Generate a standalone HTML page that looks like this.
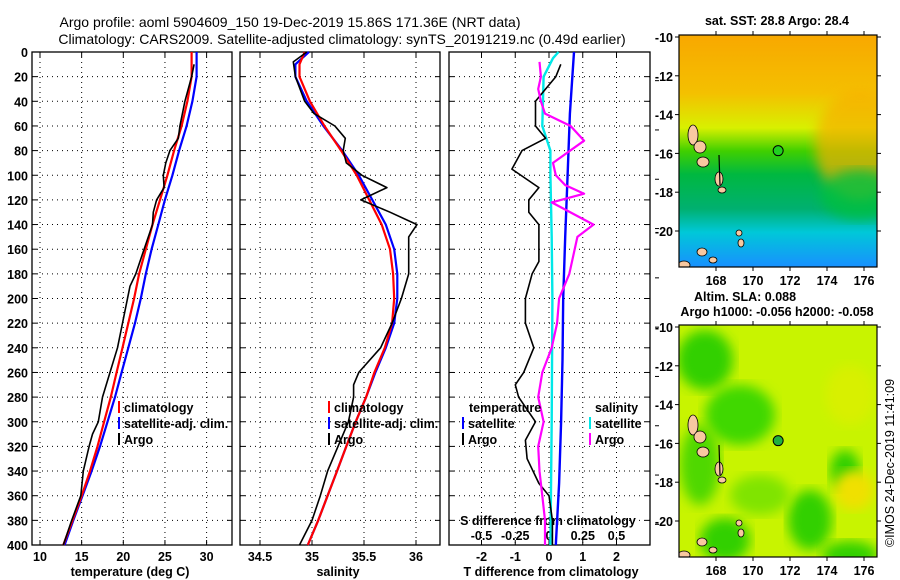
<!DOCTYPE html>
<html><head><meta charset="utf-8">
<style>
body{margin:0;background:#fff;}
svg{display:block;font-family:"Liberation Sans",Arial,sans-serif;}
</style></head>
<body>
<svg id="chart" width="900" height="580" viewBox="0 0 900 580" xmlns="http://www.w3.org/2000/svg">
<defs>
<linearGradient id="sstGrad" x1="0" y1="0" x2="0" y2="1">
<stop offset="0" stop-color="#f8a800"/>
<stop offset="0.25" stop-color="#f4c000"/>
<stop offset="0.4" stop-color="#d8f000"/>
<stop offset="0.5" stop-color="#40d000"/>
<stop offset="0.6" stop-color="#00b840"/>
<stop offset="0.75" stop-color="#00b070"/>
<stop offset="0.85" stop-color="#00c8d8"/>
<stop offset="1" stop-color="#1890ff"/>
</linearGradient>
<linearGradient id="sstRight" x1="0" y1="0" x2="1" y2="0">
<stop offset="0" stop-color="#f8b000" stop-opacity="0"/>
<stop offset="1" stop-color="#f8b000" stop-opacity="0.8"/>
</linearGradient>
<filter id="blur"><feGaussianBlur stdDeviation="6"/></filter>
<clipPath id="clipM1"><rect x="679" y="35" width="198" height="232"/></clipPath>
<clipPath id="clipM2"><rect x="679" y="325" width="198" height="232"/></clipPath>
</defs>
<g id="root"></g>
</svg>
<script>
// ---- data ----
const depthTicks = [0,20,40,60,80,100,120,140,160,180,200,220,240,260,280,300,320,340,360,380,400];
const tTicks = [10,15,20,25,30];
const sTicks = [34.5,35,35.5,36];
const dTTicks = [-2,-1,0,1,2];
const dSTickLabels = ["-0.5","-0.25","0","0.25","0.5"];
const dSTicks = [-0.5,-0.25,0,0.25,0.5];

const tClimDepth = [0,20,40,60,80,100,120,140,160,180,200,220,240,260,280,300,320,340,360,380,400];
const tClim = [28.2,28.2,27.7,27.0,26.1,25.3,24.4,23.5,22.7,21.9,21.3,20.6,19.9,19.2,18.5,17.7,16.9,16.0,15.0,13.9,12.8];
const tSat  = [28.8,28.8,28.3,27.6,26.7,25.9,25.0,24.2,23.4,22.7,22.1,21.4,20.6,19.8,19.0,18.1,17.2,16.2,15.1,14.0,12.95];
const tArgoDepth = [10,20,40,60,70,80,90,100,110,120,130,140,160,180,190,200,220,240,260,280,300,310,320,340,360,380,400];
const tArgo = [28.5,28.2,27.4,26.8,26.6,25.6,25.1,24.8,24.9,24.0,23.6,23.5,22.5,21.5,20.8,20.5,19.9,19.3,18.4,17.5,17.0,16.3,15.9,15.2,14.9,13.8,12.8];

const sClimDepth = [0,10,20,40,60,80,100,120,140,160,180,200,220,240,260,280,300,320,340,360,380,400];
const sClim = [34.93,34.88,34.88,34.98,35.12,35.28,35.43,35.55,35.67,35.75,35.78,35.79,35.77,35.70,35.60,35.52,35.42,35.33,35.24,35.15,35.06,34.96];
const sSat  = [34.97,34.84,34.84,34.95,35.11,35.29,35.45,35.58,35.71,35.79,35.82,35.82,35.79,35.71,35.61,35.52,35.42,35.33,35.24,35.15,35.06,34.96];
const sArgoDepth = [0,8,20,40,50,60,70,80,90,100,110,120,130,140,150,160,180,200,220,240,260,270,280,300,320,340,360,380,400];
const sArgo = [34.95,34.82,34.84,34.93,35.02,35.22,35.32,35.30,35.33,35.48,35.72,35.47,35.75,36.01,35.93,35.93,35.93,35.86,35.77,35.66,35.45,35.40,35.40,35.35,35.25,35.15,35.08,35.00,34.88];

const dTSatDepth = [0,50,100,150,200,250,300,350,400];
const dTSat = [0.74,0.62,0.55,0.48,0.42,0.40,0.36,0.30,0.20];
const dTArgoDepth = [10,20,30,40,60,70,80,95,110,120,130,140,160,170,180,200,220,240,260,270,280,300,315,330,350,360,380,400];
const dTArgo = [0.35,0.2,-0.1,-0.4,-0.4,-0.1,-0.8,-1.1,-0.3,-0.6,-0.6,-0.3,-0.3,-0.3,-0.5,-0.7,-0.7,-0.45,-0.75,-1.0,-0.9,-0.4,-0.7,-0.65,-0.3,0.0,0.1,0.1];
const dSSatDepth = [0,5,20,60,80,100,150,200,300,400];
const dSSat = [0.07,0.03,-0.04,-0.05,0.01,0.01,0.02,0.025,0.02,0.01];
const dSArgoDepth = [8,20,30,40,50,60,72,90,100,108,115,122,140,150,180,200,220,240,260,280,300,320,340,360,380,400];
const dSArgo = [-0.07,-0.06,-0.08,-0.06,-0.03,0.16,0.26,0.03,0.05,0.12,0.26,0.02,0.33,0.21,0.15,0.075,0.06,0.02,-0.05,-0.08,-0.04,-0.08,-0.07,-0.05,-0.03,-0.03];

// ---- axes ----
const Y0 = 52, Y1 = 545;
const yD = d => Y0 + d*(Y1-Y0)/400;
const xT = t => 40 + (t-10)*8.33;
const xS = s => 260 + (s-34.5)*104;
const xDT = v => 549 + v*33.75;
const xDS = s => 549 + s*4*33.75;
const panels = [{x0:32,x1:232},{x0:240,x1:440},{x0:449,x1:650}];

const NS = "http://www.w3.org/2000/svg";
const root = document.getElementById('root');
function mk(tag, attrs, parent){
  const e = document.createElementNS(NS, tag);
  for (const k in attrs) e.setAttribute(k, attrs[k]);
  (parent||root).appendChild(e);
  return e;
}
function txt(x,y,s,size,anchor,weight,parent){
  const e = mk('text',{x:x,y:y,'font-size':size,'text-anchor':anchor||'start','font-weight':weight||'normal',fill:'#000'},parent);
  e.textContent = s;
  return e;
}

// titles
let t1 = txt(290,27,"Argo profile: aoml 5904609_150 19-Dec-2019 15.86S 171.36E (NRT data)",14,'middle');


let t2 = txt(342,44,"Climatology: CARS2009. Satellite-adjusted climatology: synTS_20191219.nc (0.49d earlier)",14,'middle');



// panel frames, grids
panels.forEach((p,i)=>{
  const g = mk('g',{});
  
  
  depthTicks.forEach(d=>{
    const y = yD(d);
    if (d>0 && d<400) mk('line',{x1:p.x0,x2:p.x1,y1:y,y2:y,stroke:'#000','stroke-width':1,'stroke-dasharray':'1,4'},g);
    mk('line',{x1:p.x0,x2:p.x0+5,y1:y,y2:y,stroke:'#000'},g);
    mk('line',{x1:p.x1-5,x2:p.x1,y1:y,y2:y,stroke:'#000'},g);
  });
  let vt = i==0 ? tTicks.map(xT) : i==1 ? sTicks.map(xS) : dTTicks.map(xDT);
  vt.forEach(x=>{
    mk('line',{x1:x,x2:x,y1:Y0,y2:Y1,stroke:'#000','stroke-dasharray':'1,4'},g);
    mk('line',{x1:x,x2:x,y1:Y1-5,y2:Y1,stroke:'#000'},g);
    mk('line',{x1:x,x2:x,y1:Y0,y2:Y0+5,stroke:'#000'},g);
  });
  mk('rect',{x:p.x0,y:Y0,width:p.x1-p.x0,height:Y1-Y0,fill:'none',stroke:'#000','stroke-width':1.3},g);
});
// right side ticks of panel3 (outside)
depthTicks.forEach((d,i)=>{ if(i%2==1) mk('line',{x1:655,x2:659,y1:yD(d)+4,y2:yD(d)+4,stroke:'#000'}); });

// y tick labels
const yl = mk('g',{});


depthTicks.forEach(d=>{ txt(28,yD(d)+5,String(d),12.5,'end','bold',yl); });

// x tick labels
const xl = mk('g',{});


tTicks.forEach(t=>txt(xT(t),561,String(t),12.5,'middle','bold',xl));
sTicks.forEach(s=>txt(xS(s),561,String(s),12.5,'middle','bold',xl));
dTTicks.forEach(v=>txt(xDT(v),561,String(v),12.5,'middle','bold',xl));
dSTicks.forEach((s,i)=>txt(xDS(s),540,dSTickLabels[i],12.5,'middle','bold',xl));
let a1 = txt(130,576,"temperature (deg C)",12.5,'middle','bold');  
let a2 = txt(338,576,"salinity",12.5,'middle','bold');  
let a3 = txt(551,576,"T difference from climatology",12.5,'middle','bold');  
let a4 = txt(548,525,"S difference from climatology",12.5,'middle','bold');  

// series
function line(depths, vals, xf, color, w, name){
  const pts = depths.map((d,i)=>xf(vals[i]).toFixed(1)+','+yD(d).toFixed(1)).join(' ');
  const e = mk('polyline',{points:pts,fill:'none',stroke:color,'stroke-width':w,'stroke-linejoin':'round'});
  
  
}
line(tClimDepth,tSat,xT,'#0000ff',2.2,'temp-satellite-line');
line(tClimDepth,tClim,xT,'#ff0000',2.2,'temp-climatology-line');
line(tArgoDepth,tArgo,xT,'#000',1.6,'temp-argo-line');
line(sClimDepth,sSat,xS,'#0000ff',2.2,'sal-satellite-line');
line(sClimDepth,sClim,xS,'#ff0000',2.2,'sal-climatology-line');
line(sArgoDepth,sArgo,xS,'#000',1.6,'sal-argo-line');
line(dTSatDepth,dTSat,xDT,'#0000ff',2.4,'tdiff-satellite-line');
line(dSSatDepth,dSSat,xDS,'#00e8e8',2.4,'sdiff-satellite-line');
line(dTArgoDepth,dTArgo,xDT,'#000',1.6,'tdiff-argo-line');
line(dSArgoDepth,dSArgo,xDS,'#ff00ff',2.2,'sdiff-argo-line');

// legends
function legend(x,y,color,label,name){
  const g = mk('g',{});
  
  
  mk('rect',{x:x,y:y-11,width:2,height:12,fill:color},g);
  txt(x+6,y,label,12.5,'start','bold',g);
}
[[118,'p1'],[328,'p2']].forEach(([x,p])=>{
  legend(x,412,'#ff0000','climatology',p+'-legend-climatology');
  legend(x,428,'#0000ff','satellite-adj. clim.',p+'-legend-satellite');
  legend(x,444,'#000','Argo',p+'-legend-argo');
});
let lt = txt(469,412,"temperature",12.5,'start','bold');  
let ls = txt(595,412,"salinity",12.5,'start','bold');  
legend(462,428,'#0000ff','satellite','legend-t-satellite');
legend(462,444,'#000','Argo','legend-t-argo');
legend(589,428,'#00e8e8','satellite','legend-s-satellite');
legend(589,444,'#ff00ff','Argo','legend-s-argo');

// ---- maps ----
const lonTicks = [168,170,172,174,176];
const latTicks = [-10,-12,-14,-16,-18,-20];
const xLon = lon => 716 + (lon-168)*18.5;
function mapPanel(y0, yLat10, clip, kind){
  const g = mk('g',{});
  
  
  const yLat = lat => yLat10 + (-10-lat)*19.4;
  const cg = mk('g',{'clip-path':'url(#'+clip+')'},g);
  if (kind==='sst'){
    mk('rect',{x:679,y:y0,width:198,height:232,fill:'url(#sstGrad)'},cg);
    mk('ellipse',{cx:860,cy:y0+110,rx:45,ry:55,fill:'#f8b000',opacity:0.7,filter:'url(#blur)'},cg);
    mk('ellipse',{cx:860,cy:y0+160,rx:40,ry:25,fill:'#00c040',opacity:0.8,filter:'url(#blur)'},cg);
  } else {
    mk('rect',{x:679,y:y0,width:198,height:232,fill:'#c8f400'},cg);
    const blobs=[[705,y0+35,28,30,'#30d000'],[740,y0+90,35,30,'#40d800'],[700,y0+140,20,40,'#50d800'],[845,y0+145,15,20,'#30d000'],[810,y0+195,22,30,'#30d000'],[725,y0+215,25,22,'#30d000'],[850,y0+230,28,14,'#30d000'],[760,y0+170,30,20,'#80e400'],[854,y0+165,20,20,'#f0e000'],[850,y0+70,25,30,'#d8f000']];
    blobs.forEach(b=>mk('ellipse',{cx:b[0],cy:b[1],rx:b[2],ry:b[3],fill:b[4],filter:'url(#blur)'},cg));
  }
  // islands
  const isl=[[693,y0+100,5,10],[700,y0+112,6,6],[703,y0+127,6,5],[719,y0+144,4,7],[722,y0+155,4,3],[739,y0+198,3,3],[741,y0+208,3,4],[702,y0+217,5,4],[713,y0+225,4,3],[684,y0+230,6,4]];
  isl.forEach(s=>mk('ellipse',{cx:s[0],cy:s[1],rx:s[2],ry:s[3],fill:'#f8c8a0',stroke:'#000','stroke-width':0.8},cg));
  mk('line',{x1:719,x2:720,y1:y0+120,y2:y0+150,stroke:'#000','stroke-width':1.2},cg);
  // argo marker
  const m = mk('circle',{cx:xLon(171.36),cy:yLat(-15.86),r:5,fill: kind==='sst'?'#20d020':'#20b040',stroke:'#000','stroke-width':1},g);
  
  
  mk('rect',{x:679,y:y0,width:198,height:232,fill:'none',stroke:'#000','stroke-width':1.2},g);
  lonTicks.forEach(l=>{
    mk('line',{x1:xLon(l),x2:xLon(l),y1:y0-4,y2:y0,stroke:'#000'},g);
    mk('line',{x1:xLon(l),x2:xLon(l),y1:y0+232,y2:y0+236,stroke:'#000'},g);
    txt(xLon(l),y0+250,String(l),12.5,'middle','bold',g);
  });
  latTicks.forEach(l=>{
    const y = yLat(l);
    mk('line',{x1:675,x2:679,y1:y,y2:y,stroke:'#000'},g);
    mk('line',{x1:877,x2:881,y1:y,y2:y,stroke:'#000'},g);
    txt(673,y+5,String(l),12.5,'end','bold',g);
  });
}
mapPanel(35,37,'clipM1','sst');
mapPanel(325,327,'clipM2','sla');
let m1 = txt(777,25,"sat. SST: 28.8 Argo: 28.4",12.5,'middle','bold');  
let m2 = txt(745,301,"Altim. SLA: 0.088",12.5,'middle','bold');  
let m3 = txt(777,316,"Argo h1000: -0.056 h2000: -0.058",12.5,'middle','bold');  
let cp = txt(0,0,"©IMOS 24-Dec-2019 11:41:09",12.5,'middle','normal');
cp.setAttribute('transform','translate(894,463) rotate(-90)');


</script>
</body></html>
